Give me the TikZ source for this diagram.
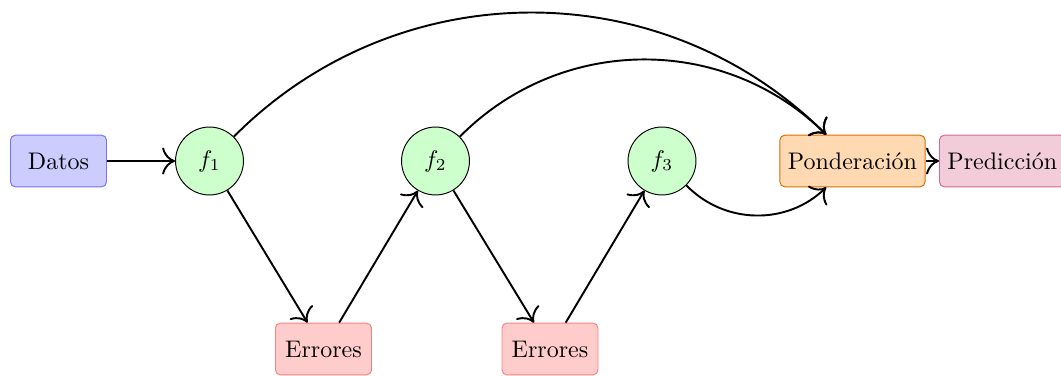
\documentclass[tikz,border=0pt]{standalone}
\usetikzlibrary{arrows.meta}
\begin{document}
\begin{tikzpicture}[x=0.41667pt,y=-0.41667pt,
  boxbase/.style={draw,rounded corners=2pt,minimum height=21.5pt,inner sep=3.33pt},
  datbox/.style={boxbase,fill=blue!20,draw=blue!55,minimum width=40pt},
  errbox/.style={boxbase,fill=red!20,draw=red!50,minimum width=40pt},
  pondbox/.style={boxbase,fill=orange!30,draw=orange!85!black},
  predbox/.style={boxbase,fill=purple!20,draw=purple!60},
  model/.style={circle,draw=black,fill=green!20,minimum size=28.3pt,inner sep=0pt},
  conn/.style={-{To[scale=1.6]},thick}]
\useasboundingbox (0,0) rectangle (1061,375);
\node[datbox] (d) at (58.5,161) {Datos};
\node[model] (f1) at (209.5,161) {$f_1$};
\node[model] (f2) at (435.5,161) {$f_2$};
\node[model] (f3) at (662,161) {$f_3$};
\node[errbox] (e1) at (323.5,349) {Errores};
\node[errbox] (e2) at (550,349) {Errores};
\node[pondbox] (p) at (852.5,161) {Ponderación};
\node[predbox,anchor=west] (r) at (939,161) {Predicción};
\draw[conn] (d) -- (f1);
\draw[conn] (f1) -- (e1);
\draw[conn] (e1) -- (f2);
\draw[conn] (f2) -- (e2);
\draw[conn] (e2) -- (f3);
\draw[conn] (f1) to[bend left=45] (p);
\draw[conn] (f2) to[bend left=45] (p);
\draw[conn] (f3) to[bend right=45] (p);
\draw[conn] (p) -- (r);
\end{tikzpicture}
\end{document}
